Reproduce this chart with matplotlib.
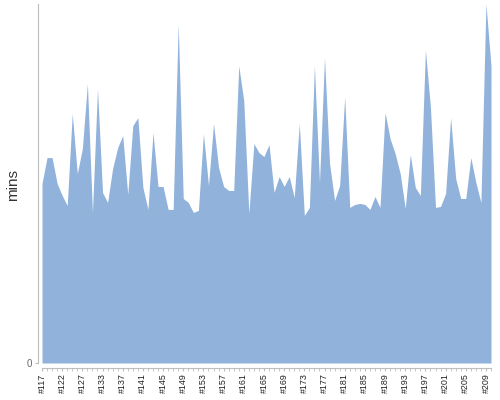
import matplotlib
matplotlib.use("Agg")
import matplotlib.pyplot as plt
import numpy as np

# category names (#117 .. #210 with a few builds missing)
builds = [117, 118, 120, 121, 122, 123, 125, 126, 127, 128, 130, 132, 133, 134, 135, 136,
          137, 138, 139, 140, 141, 142, 143, 144, 145, 146, 147, 148, 149, 150, 151, 152,
          153, 154, 155, 156, 157, 158, 159, 160, 161, 162, 163, 164, 165, 166, 167, 168,
          169, 170, 171, 172, 173, 174, 175, 176, 177, 178, 179, 180, 181, 182, 183, 184,
          185, 186, 187, 188, 189, 190, 191, 192, 193, 194, 195, 196, 197, 198, 199, 200,
          201, 202, 203, 204, 205, 206, 207, 208, 209, 210]
categories = ["#%d" % b for b in builds]

mins = [180, 206, 206, 180, 168, 158, 250, 190, 215, 280, 151, 275, 171, 161, 195, 216,
        228, 169, 238, 246, 176, 154, 231, 177, 177, 154, 154, 340, 165, 161, 151, 153,
        230, 178, 240, 196, 177, 173, 173, 298, 263, 150, 220, 211, 207, 219, 171, 187,
        177, 187, 166, 240, 148, 156, 298, 181, 306, 200, 163, 178, 267, 156, 159, 160,
        159, 154, 167, 156, 251, 225, 210, 190, 155, 209, 176, 168, 314, 256, 156, 157,
        170, 246, 185, 165, 165, 206, 181, 161, 360, 298]

fill_color = "#91b2db"
axis_color = "#bdbdbd"

fig = plt.figure(figsize=(5, 4), dpi=100)
ax = fig.add_axes([42 / 500, 37 / 400, 449 / 500, 359 / 400])

x = np.arange(len(categories))
ax.fill_between(x, mins, 0, color=fill_color, linewidth=0)
ax.set_xlim(0, len(categories) - 1)
ax.set_ylim(0, 360)

for s in ("top", "right"):
    ax.spines[s].set_visible(False)
ax.spines["left"].set_position(("outward", 2.9))
ax.spines["bottom"].set_position(("outward", 3.6))
ax.spines["left"].set_color(axis_color)
ax.spines["bottom"].set_color(axis_color)

ax.set_yticks([0])
ax.set_yticklabels(["0"], fontsize=7, color="#666666", family="Liberation Sans")
ax.tick_params(axis="y", length=2, color=axis_color, pad=2)

ax.set_xticks(x[::4])
ax.set_xticklabels(categories[::4], rotation=90, fontsize=6.4, color="#222222",
                   family="Liberation Sans")
ax.set_xticks(x, minor=True)
ax.tick_params(axis="x", which="major", length=2, color=axis_color, pad=2)
ax.tick_params(axis="x", which="minor", length=2, color=axis_color)

ax.set_ylabel("mins", fontsize=11, color="#333333", family="Liberation Sans", labelpad=4)
ax.yaxis.set_label_coords(-22 / 449, 0.495)

fig.savefig("out.png", dpi=100)
